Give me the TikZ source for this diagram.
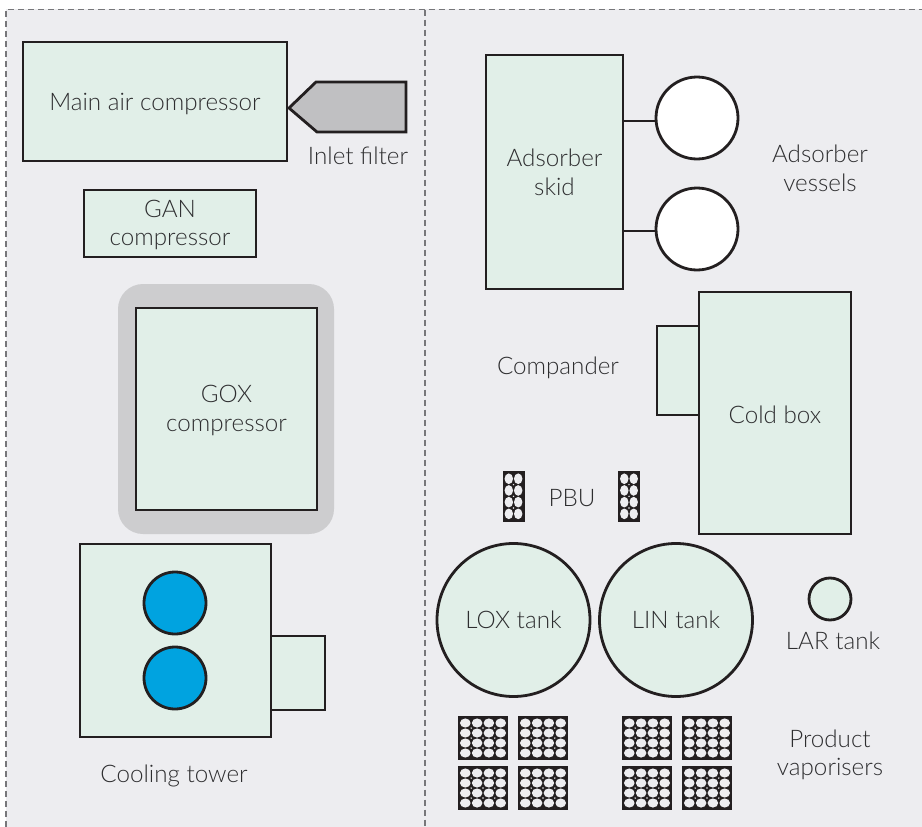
\documentclass[tikz,border=0pt]{standalone}
\usepackage{fontspec}
\setmainfont{Lato Light}[BoldFont=Lato]
\usetikzlibrary{positioning,calc}
\definecolor{panel}{HTML}{EDEDF0}
\definecolor{plant}{HTML}{E1EFE8}
\definecolor{ink}{HTML}{231F20}
\definecolor{label}{HTML}{2E2E30}
\definecolor{halo}{HTML}{CDCDCF}
\definecolor{filter}{HTML}{C0C0C2}
\definecolor{fan}{HTML}{00A3E0}
\definecolor{rule}{HTML}{77777A}
\tikzset{
  unit/.style={draw=ink,fill=plant,line width=2.8pt,inner sep=0pt,align=center,text=label},
  tank/.style={unit,circle},
  txt/.style={text=label,align=center,inner sep=0pt},
  low/.style={text depth=1pt},
  coil/.style={fill=ink,draw=none,inner sep=0pt},
  tube/.style={fill=panel,draw=none},
  divider/.style={rule,line width=1.2pt,dash pattern=on 6pt off 4pt},
}
% one block of tubes: name, centre, columns, rows, column pitch, row pitch
\newcommand{\tubes}[6]{
  \node[coil,minimum width=#3*#5pt+3.2pt,minimum height=#4*#6pt+3.8pt] (#1) at (#2) {};
  \foreach \i in {1,...,#3} \foreach \j in {1,...,#4}
    \fill[tube] ($(#1.center)+({(\i-(#3+1)/2)*#5},{(\j-(#4+1)/2)*#6})$) ellipse ({#5*0.45} and {#6*0.455});
  \pgfmathtruncatemacro{\colsless}{#3-1}
  \pgfmathtruncatemacro{\rowsless}{#4-1}
  \foreach \i in {1,...,\colsless} \foreach \j in {1,...,\rowsless}
    \fill[tube] ($(#1.center)+({(\i-#3/2)*#5},{(\j-#4/2)*#6})$) circle (0.8);
}
\begin{document}
\begin{tikzpicture}[x=1pt,y=-1pt,font=\fontsize{24.2}{28.6}\selectfont]
  \useasboundingbox (0,0) rectangle (922,827);
  \fill[panel] (6,9) rectangle (922,827);
  \coordinate (TL) at (6,9.5);
  \coordinate (TR) at (922,9.5);
  \coordinate (BL) at (6,827);
  \coordinate (MT) at (425,9.5);
  \coordinate (MB) at (425,827);
  \draw[divider] (BL) -- (TL) -- (TR);
  \draw[divider] (MT) -- (MB);

  % left side
  \node[unit,text depth=0pt,minimum width=264pt,minimum height=119pt] (Main) at (155,101.5) {Main air compressor};
  \draw[ink,fill=filter,line width=2.8pt,line join=miter] (406,82) coordinate (FiltA) -- (316,82) -- (289,108) coordinate (FiltTip) -- (317,132) -- (406,132) -- cycle;
  \node[txt] (Filter) at (358,156) {Inlet filter};
  \node[unit,low,minimum width=172pt,minimum height=67pt] (Gan) at (170,223.5) {GAN\\compressor};
  \node[fill=halo,rounded corners=25pt,minimum width=216pt,minimum height=250pt,inner sep=0pt] (Halo) at (226,409) {};
  \node[unit,low,minimum width=181pt,minimum height=202pt] (Gox) at (226.5,409) {GOX\\compressor};
  \node[unit,minimum width=54pt,minimum height=74pt] (TowerSide) at (298,673) {};
  \node[unit,minimum width=191pt,minimum height=193pt] (Tower) at (175.5,640.5) {};
  \node[tank,fill=fan,minimum size=62pt] (FanA) at (175,603) {};
  \node[tank,fill=fan,minimum size=62pt] (FanB) at (175,678) {};
  \node[txt] (TowerTxt) at (174,776) {Cooling tower};

  % right side
  \node[unit,minimum width=137pt,minimum height=234pt] (Skid) at (554.5,172) {Adsorber\\skid};
  \node[tank,fill=white,minimum size=82pt] (VesA) at (697,118) {};
  \node[tank,fill=white,minimum size=82pt] (VesB) at (697,229) {};
  \draw[ink,line width=2.4pt] (Skid.east |- 0,121) -- (VesA.west |- 0,121);
  \draw[ink,line width=2.4pt] (Skid.east |- 0,231) -- (VesB.west |- 0,231);
  \node[txt] (VesTxt) at (820,168) {Adsorber\\vessels};
  \node[unit,minimum width=42pt,minimum height=89pt] (Comp) at (678,370.5) {};
  \node[unit,text height=22pt,minimum width=152pt,minimum height=242pt] (Cold) at (775,413) {Cold box};
  \node[txt] (CompTxt) at (558,368) {Compander};
  \tubes{PbuA}{513.5,496.3}{2}{4}{9.4}{11.7}
  \tubes{PbuB}{629,496.3}{2}{4}{9.4}{11.7}
  \node[txt] (Pbu) at (572,498) {PBU};
  \node[tank,minimum size=153pt] (Lox) at (513.5,620) {LOX tank};
  \node[tank,minimum size=153pt] (Lin) at (676,620) {LIN tank};
  \node[tank,minimum size=42pt] (Lar) at (830,599) {};
  \node[txt] (LarTxt) at (833,641) {LAR tank};
  \tubes{VapA}{483,738}{4}{4}{11.8}{10}
  \tubes{VapB}{543,738}{4}{4}{11.8}{10}
  \tubes{VapC}{483,788}{4}{4}{11.8}{10}
  \tubes{VapD}{543,788}{4}{4}{11.8}{10}
  \tubes{VapE}{647,738}{4}{4}{11.8}{10}
  \tubes{VapF}{707,738}{4}{4}{11.8}{10}
  \tubes{VapG}{647,788}{4}{4}{11.8}{10}
  \tubes{VapH}{707,788}{4}{4}{11.8}{10}
  \node[txt] (VapTxt) at (830,755) {Product\\vaporisers};
\end{tikzpicture}
\end{document}
